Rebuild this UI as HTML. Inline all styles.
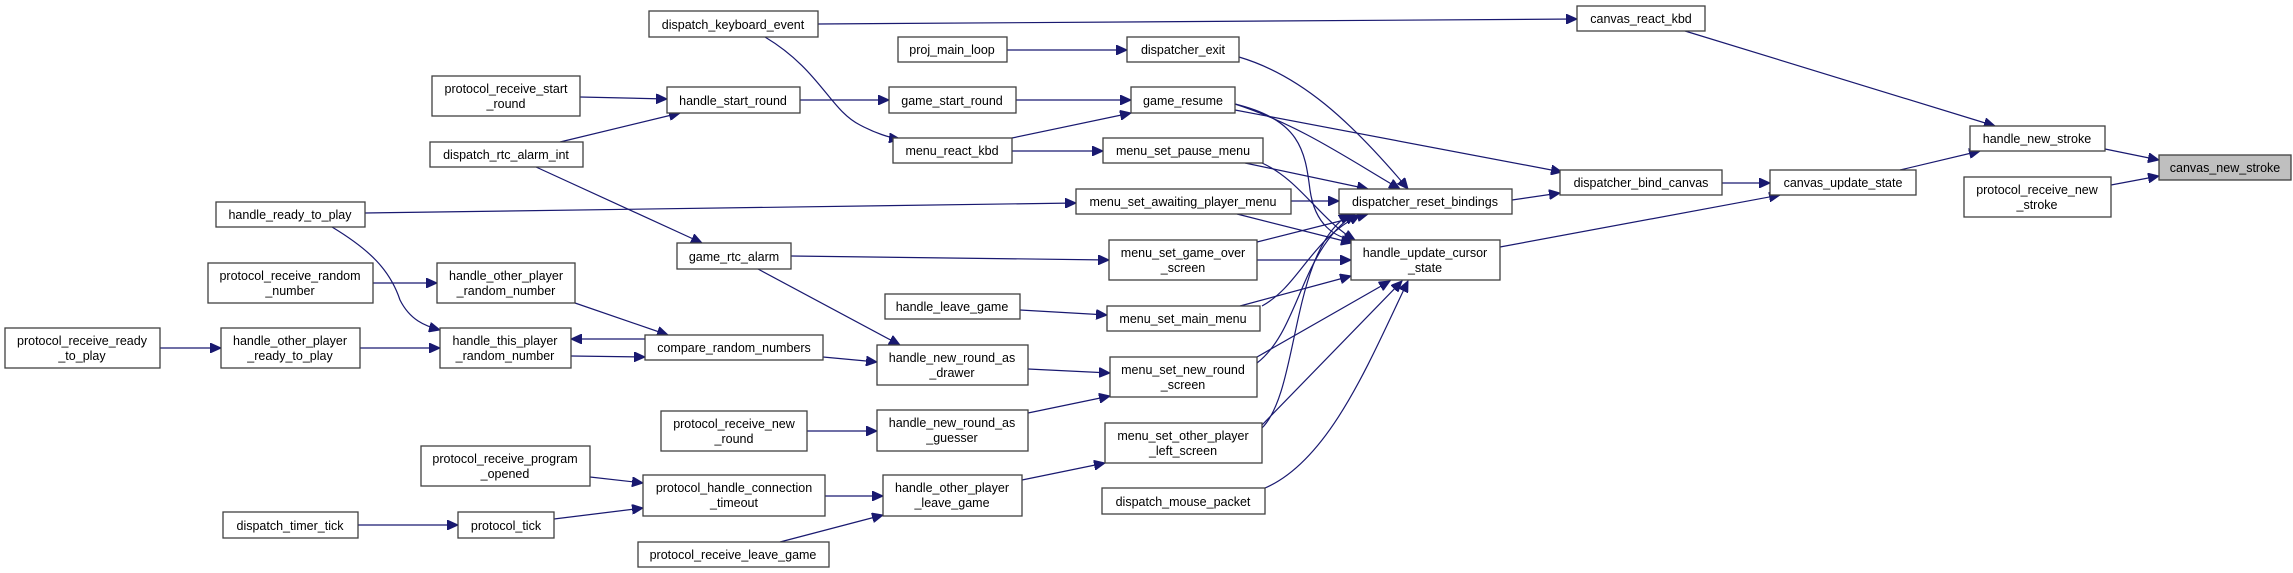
<!DOCTYPE html>
<html><head><meta charset="utf-8"><style>
html,body{margin:0;padding:0;background:#fff;}
svg{display:block;}
text{font-family:"Liberation Sans",Arial,sans-serif;font-size:12.5px;fill:#000;text-anchor:middle;}
rect{fill:#fff;stroke:#404040;stroke-width:1.3;}
path{fill:none;stroke:#191970;stroke-width:1.2;}
</style></head><body>
<svg width="2293" height="573" viewBox="0 0 2293 573" xmlns="http://www.w3.org/2000/svg">
<defs>
<marker id="a" markerUnits="userSpaceOnUse" markerWidth="12" markerHeight="10" refX="11" refY="5" orient="auto">
<path d="M0,0 L11,5 L0,10 Z" style="fill:#191970;stroke:#191970;stroke-width:1"/>
</marker>
</defs>
<g marker-end="url(#a)">
<path d="M818,24 L1577,19"/>
<path d="M765,37 C820,70 830,110 860,125 C875,133 890,138 900,139"/>
<path d="M1007,50 L1127,50"/>
<path d="M580,97 L667,99"/>
<path d="M560,142 L680,113"/>
<path d="M536,167 L702,243"/>
<path d="M800,100 L889,100"/>
<path d="M1016,100 L1131,100"/>
<path d="M1012,138 L1131,113"/>
<path d="M1012,151 L1103,151"/>
<path d="M365,213 L1076,203"/>
<path d="M332,227 C370,250 390,270 400,300 C410,320 425,326 440,330"/>
<path d="M791,256 L1109,260"/>
<path d="M758,269 L900,345"/>
<path d="M373,283 L437,283"/>
<path d="M575,303 L668,335"/>
<path d="M160,348 L221,348"/>
<path d="M360,348 L440,348"/>
<path d="M645,339 L571,339"/>
<path d="M571,356 L645,357"/>
<path d="M823,357 L877,362"/>
<path d="M1020,310 L1107,315"/>
<path d="M1028,369 L1110,373"/>
<path d="M807,431 L877,431"/>
<path d="M1028,413 L1110,396"/>
<path d="M590,477 L643,483"/>
<path d="M358,525 L458,525"/>
<path d="M554,519 L643,508"/>
<path d="M825,496 L883,496"/>
<path d="M780,542 L883,515"/>
<path d="M1022,480 L1105,463"/>
<path d="M1239,57 C1300,75 1350,120 1408,189"/>
<path d="M1235,104 C1300,125 1350,160 1400,189"/>
<path d="M1235,104 C1300,120 1305,150 1310,190 C1315,225 1335,238 1355,240"/>
<path d="M1235,110 L1562,172"/>
<path d="M1245,163 L1368,189"/>
<path d="M1262,163 C1300,180 1320,220 1355,240"/>
<path d="M1291,201 L1339,201"/>
<path d="M1237,214 L1352,243"/>
<path d="M1257,242 L1368,214"/>
<path d="M1257,260 L1351,260"/>
<path d="M1240,306 L1351,276"/>
<path d="M1262,306 C1300,285 1310,240 1360,215"/>
<path d="M1257,357 L1390,281"/>
<path d="M1257,363 C1300,330 1300,250 1355,214"/>
<path d="M1262,425 L1402,281"/>
<path d="M1262,428 C1300,390 1290,250 1350,214"/>
<path d="M1265,488 C1330,460 1370,360 1408,281"/>
<path d="M1512,200 L1560,193"/>
<path d="M1722,183 L1770,183"/>
<path d="M1500,247 L1780,195"/>
<path d="M1900,170 L1980,151"/>
<path d="M1685,31 L1995,126"/>
<path d="M2105,149 L2159,160"/>
<path d="M2111,185 L2159,176"/>
</g>
<g>
<rect x="649" y="11" width="169" height="26"/><text x="733" y="29">dispatch_keyboard_event</text>
<rect x="432" y="76" width="148" height="40"/><text x="506" y="93">protocol_receive_start</text><text x="506" y="108">_round</text>
<rect x="667" y="87" width="133" height="26"/><text x="733" y="105">handle_start_round</text>
<rect x="430" y="142" width="153" height="25"/><text x="506" y="159">dispatch_rtc_alarm_int</text>
<rect x="216" y="202" width="149" height="25"/><text x="290" y="219">handle_ready_to_play</text>
<rect x="677" y="243" width="114" height="26"/><text x="734" y="261">game_rtc_alarm</text>
<rect x="208" y="263" width="165" height="40"/><text x="290" y="280">protocol_receive_random</text><text x="290" y="295">_number</text>
<rect x="437" y="263" width="138" height="40"/><text x="506" y="280">handle_other_player</text><text x="506" y="295">_random_number</text>
<rect x="5" y="328" width="155" height="40"/><text x="82" y="345">protocol_receive_ready</text><text x="82" y="360">_to_play</text>
<rect x="221" y="328" width="139" height="40"/><text x="290" y="345">handle_other_player</text><text x="290" y="360">_ready_to_play</text>
<rect x="440" y="328" width="131" height="40"/><text x="505" y="345">handle_this_player</text><text x="505" y="360">_random_number</text>
<rect x="645" y="335" width="178" height="25"/><text x="734" y="352">compare_random_numbers</text>
<rect x="661" y="411" width="146" height="40"/><text x="734" y="428">protocol_receive_new</text><text x="734" y="443">_round</text>
<rect x="421" y="446" width="169" height="40"/><text x="505" y="463">protocol_receive_program</text><text x="505" y="478">_opened</text>
<rect x="643" y="475" width="182" height="41"/><text x="734" y="492">protocol_handle_connection</text><text x="734" y="507">_timeout</text>
<rect x="223" y="512" width="135" height="26"/><text x="290" y="530">dispatch_timer_tick</text>
<rect x="458" y="512" width="96" height="26"/><text x="506" y="530">protocol_tick</text>
<rect x="638" y="542" width="191" height="25"/><text x="733" y="559">protocol_receive_leave_game</text>
<rect x="1577" y="6" width="128" height="25"/><text x="1641" y="23">canvas_react_kbd</text>
<rect x="898" y="37" width="109" height="25"/><text x="952" y="54">proj_main_loop</text>
<rect x="1127" y="37" width="112" height="25"/><text x="1183" y="54">dispatcher_exit</text>
<rect x="889" y="87" width="127" height="26"/><text x="952" y="105">game_start_round</text>
<rect x="1131" y="87" width="104" height="26"/><text x="1183" y="105">game_resume</text>
<rect x="893" y="138" width="119" height="25"/><text x="952" y="155">menu_react_kbd</text>
<rect x="1103" y="138" width="160" height="25"/><text x="1183" y="155">menu_set_pause_menu</text>
<rect x="1076" y="189" width="215" height="25"/><text x="1183" y="206">menu_set_awaiting_player_menu</text>
<rect x="1339" y="189" width="173" height="25"/><text x="1425" y="206">dispatcher_reset_bindings</text>
<rect x="1109" y="240" width="148" height="40"/><text x="1183" y="257">menu_set_game_over</text><text x="1183" y="272">_screen</text>
<rect x="1351" y="240" width="149" height="40"/><text x="1425" y="257">handle_update_cursor</text><text x="1425" y="272">_state</text>
<rect x="1560" y="170" width="162" height="25"/><text x="1641" y="187">dispatcher_bind_canvas</text>
<rect x="885" y="294" width="135" height="25"/><text x="952" y="311">handle_leave_game</text>
<rect x="1107" y="306" width="153" height="25"/><text x="1183" y="323">menu_set_main_menu</text>
<rect x="877" y="345" width="151" height="40"/><text x="952" y="362">handle_new_round_as</text><text x="952" y="377">_drawer</text>
<rect x="1110" y="357" width="147" height="40"/><text x="1183" y="374">menu_set_new_round</text><text x="1183" y="389">_screen</text>
<rect x="877" y="410" width="151" height="41"/><text x="952" y="427">handle_new_round_as</text><text x="952" y="442">_guesser</text>
<rect x="1105" y="423" width="157" height="40"/><text x="1183" y="440">menu_set_other_player</text><text x="1183" y="455">_left_screen</text>
<rect x="883" y="475" width="139" height="41"/><text x="952" y="492">handle_other_player</text><text x="952" y="507">_leave_game</text>
<rect x="1102" y="488" width="163" height="26"/><text x="1183" y="506">dispatch_mouse_packet</text>
<rect x="1970" y="126" width="135" height="25"/><text x="2037" y="143">handle_new_stroke</text>
<rect x="1770" y="170" width="146" height="25"/><text x="1843" y="187">canvas_update_state</text>
<rect x="2159" y="155" width="132" height="25" style="fill:#bfbfbf"/><text x="2225" y="172">canvas_new_stroke</text>
<rect x="1964" y="177" width="147" height="40"/><text x="2037" y="194">protocol_receive_new</text><text x="2037" y="209">_stroke</text>
</g>
</svg>
</body></html>
